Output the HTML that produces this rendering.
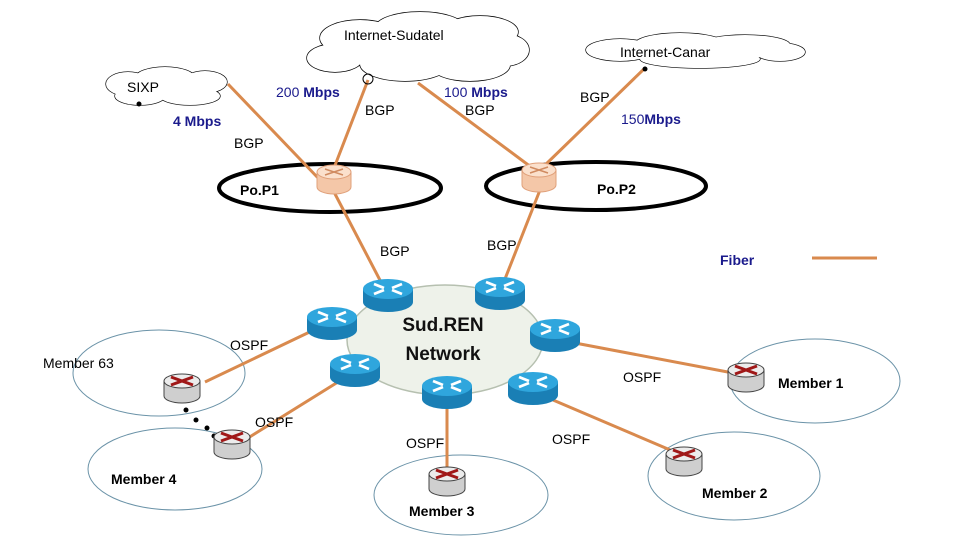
<!DOCTYPE html>
<html><head><meta charset="utf-8"><style>
html,body{margin:0;padding:0;background:#fff;}
svg{display:block;font-family:"Liberation Sans",sans-serif;}
</style></head><body>
<svg width="960" height="540" viewBox="0 0 960 540" xmlns="http://www.w3.org/2000/svg">
<defs>
<g id="br">
  <path d="M-25,0 L-25,13 A25,10 0 0 0 25,13 L25,0 Z" fill="#1a7fb5"/>
  <ellipse cx="0" cy="0" rx="25" ry="10" fill="#2fa6dd"/>
  <path d="M-14,-5 L-4,-1 M14,-5 L4,-1 M-14,5 L-4,1 M14,5 L4,1" stroke="#fff" stroke-width="2.8"/>
</g>
<g id="gr">
  <path d="M-18,0 L-18,15 A18,7 0 0 0 18,15 L18,0 Z" fill="#cfcfcf" stroke="#444" stroke-width="1"/>
  <ellipse cx="0" cy="0" rx="18" ry="7" fill="#ececec" stroke="#444" stroke-width="1"/>
  <path d="M-11,-4 L11,4 M11,-4 L-11,4" stroke="#a01818" stroke-width="3"/>
</g>
<g id="orr">
  <path d="M-17,0 L-17,15 A17,7 0 0 0 17,15 L17,0 Z" fill="#f4c7a8" stroke="#e0a07a" stroke-width="1"/>
  <ellipse cx="0" cy="0" rx="17" ry="7" fill="#fbe0cc" stroke="#e0a07a" stroke-width="1"/>
  <path d="M-9,-3 L9,3 M9,-3 L-9,3" stroke="#d08a60" stroke-width="1.5"/>
</g>
</defs>

<!-- clouds: Sudatel -->
<g stroke="#000" stroke-width="1.4" fill="#fff">
  <ellipse cx="360" cy="38" rx="40" ry="18"/><ellipse cx="420" cy="28" rx="45" ry="16"/><ellipse cx="480" cy="32" rx="38" ry="16"/>
  <ellipse cx="505" cy="50" rx="24" ry="16"/><ellipse cx="470" cy="65" rx="40" ry="16"/><ellipse cx="405" cy="64" rx="45" ry="17"/>
  <ellipse cx="335" cy="58" rx="28" ry="14"/>
</g>
<g fill="#fff">
  <ellipse cx="360" cy="38" rx="40" ry="18"/><ellipse cx="420" cy="28" rx="45" ry="16"/><ellipse cx="480" cy="32" rx="38" ry="16"/>
  <ellipse cx="505" cy="50" rx="24" ry="16"/><ellipse cx="470" cy="65" rx="40" ry="16"/><ellipse cx="405" cy="64" rx="45" ry="17"/>
  <ellipse cx="335" cy="58" rx="28" ry="14"/><ellipse cx="420" cy="48" rx="80" ry="18"/>
</g>
<!-- Canar -->
<g stroke="#000" stroke-width="1.3" fill="#fff">
  <ellipse cx="620" cy="50" rx="34" ry="11"/><ellipse cx="680" cy="44" rx="45" ry="11"/><ellipse cx="745" cy="45" rx="45" ry="10"/>
  <ellipse cx="780" cy="52" rx="25" ry="9"/><ellipse cx="700" cy="59" rx="60" ry="9"/>
</g>
<g fill="#fff">
  <ellipse cx="620" cy="50" rx="34" ry="11"/><ellipse cx="680" cy="44" rx="45" ry="11"/><ellipse cx="745" cy="45" rx="45" ry="10"/>
  <ellipse cx="780" cy="52" rx="25" ry="9"/><ellipse cx="700" cy="59" rx="60" ry="9"/><ellipse cx="700" cy="51" rx="90" ry="8"/>
</g>
<!-- SIXP -->
<g stroke="#000" stroke-width="1.3" fill="#fff">
  <ellipse cx="128" cy="84" rx="22" ry="12"/><ellipse cx="165" cy="78" rx="30" ry="11"/><ellipse cx="205" cy="82" rx="22" ry="11"/>
  <ellipse cx="190" cy="96" rx="30" ry="9"/><ellipse cx="140" cy="96" rx="25" ry="9"/>
</g>
<g fill="#fff">
  <ellipse cx="128" cy="84" rx="22" ry="12"/><ellipse cx="165" cy="78" rx="30" ry="11"/><ellipse cx="205" cy="82" rx="22" ry="11"/>
  <ellipse cx="190" cy="96" rx="30" ry="9"/><ellipse cx="140" cy="96" rx="25" ry="9"/><ellipse cx="165" cy="88" rx="50" ry="9"/>
</g>

<!-- member ellipses -->
<g fill="none" stroke="#6b93a8" stroke-width="1">
  <ellipse cx="159" cy="373" rx="86" ry="43"/>
  <ellipse cx="175" cy="469" rx="87" ry="41"/>
  <ellipse cx="461" cy="495" rx="87" ry="40"/>
  <ellipse cx="734" cy="476" rx="86" ry="44"/>
  <ellipse cx="815" cy="381" rx="85" ry="42"/>
</g>

<!-- SudREN cloud -->
<g fill="#eef2ea" stroke="#b6c0b0" stroke-width="1.5">
  <ellipse cx="445" cy="340" rx="98" ry="55"/>
</g>

<!-- PoP ellipses -->
<ellipse cx="330" cy="188" rx="111" ry="24" fill="none" stroke="#000" stroke-width="4"/>
<ellipse cx="596" cy="186" rx="110" ry="24" fill="none" stroke="#000" stroke-width="4"/>

<!-- links -->
<g stroke="#d98a4e" stroke-width="3" fill="none">
  <line x1="228" y1="84" x2="320" y2="180"/>
  <line x1="368" y1="80" x2="334" y2="168"/>
  <line x1="418" y1="83" x2="535" y2="170"/>
  <line x1="645" y1="68" x2="542" y2="168"/>
  <line x1="334" y1="192" x2="382" y2="284"/>
  <line x1="540" y1="190" x2="503" y2="284"/>
  <line x1="205" y1="382" x2="318" y2="328"/>
  <line x1="248" y1="438" x2="338" y2="382"/>
  <line x1="447" y1="405" x2="447" y2="470"/>
  <line x1="553" y1="400" x2="682" y2="455"/>
  <line x1="575" y1="343" x2="733" y2="373"/>
  <line x1="812" y1="258" x2="877" y2="258"/>
</g>
<circle cx="368" cy="79" r="5" fill="none" stroke="#000"/>
<circle cx="139" cy="104" r="2.5" fill="#000"/>
<circle cx="645" cy="69" r="2.5" fill="#000"/>

<!-- dotted chain -->
<g fill="#000"><circle cx="186" cy="410" r="2.5"/><circle cx="196" cy="420" r="2.5"/><circle cx="207" cy="428" r="2.5"/><circle cx="214" cy="436" r="2.5"/></g>

<!-- routers -->
<use href="#orr" x="334" y="172"/>
<use href="#orr" x="539" y="170"/>
<use href="#br" x="388" y="289"/>
<use href="#br" x="500" y="287"/>
<use href="#br" x="332" y="317"/>
<use href="#br" x="555" y="329"/>
<use href="#br" x="355" y="364"/>
<use href="#br" x="447" y="386"/>
<use href="#br" x="533" y="382"/>
<use href="#gr" x="182" y="381"/>
<use href="#gr" x="232" y="437"/>
<use href="#gr" x="447" y="474"/>
<use href="#gr" x="684" y="454"/>
<use href="#gr" x="746" y="370"/>

<!-- text -->
<g font-size="14" fill="#000">
  <text x="344" y="40">Internet-Sudatel</text>
  <text x="620" y="57">Internet-Canar</text>
  <text x="127" y="92">SIXP</text>
  <text x="365" y="115">BGP</text>
  <text x="465" y="115">BGP</text>
  <text x="580" y="102">BGP</text>
  <text x="234" y="148">BGP</text>
  <text x="380" y="256">BGP</text>
  <text x="487" y="250">BGP</text>
  <text x="230" y="350">OSPF</text>
  <text x="255" y="427">OSPF</text>
  <text x="406" y="448">OSPF</text>
  <text x="552" y="444">OSPF</text>
  <text x="623" y="382">OSPF</text>
  <text x="43" y="368">Member 63</text>
</g>
<g font-size="14" font-weight="bold" fill="#000">
  <text x="240" y="195">Po.P1</text>
  <text x="597" y="194">Po.P2</text>
  <text x="111" y="484">Member 4</text>
  <text x="409" y="516">Member 3</text>
  <text x="702" y="498">Member 2</text>
  <text x="778" y="388">Member 1</text>
</g>
<g font-size="19" font-weight="bold" fill="#111" text-anchor="middle">
  <text x="443" y="331">Sud.REN</text>
  <text x="443" y="360">Network</text>
</g>
<g font-size="14" fill="#1a1a8c">
  <text x="276" y="97">200 <tspan font-weight="bold">Mbps</tspan></text>
  <text x="444" y="97">100 <tspan font-weight="bold">Mbps</tspan></text>
  <text x="173" y="126" font-weight="bold">4 Mbps</text>
  <text x="621" y="124">150<tspan font-weight="bold">Mbps</tspan></text>
  <text x="720" y="265" font-weight="bold">Fiber</text>
</g>
</svg>
</body></html>
